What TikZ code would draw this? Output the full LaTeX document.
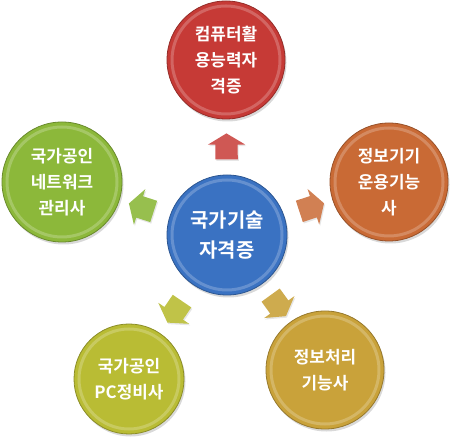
\documentclass[tikz,border=0pt]{standalone}
\usepackage{fontspec}
\setmainfont{Noto Sans CJK KR}[BoldFont={Noto Sans CJK KR Bold}]
\usetikzlibrary{calc,shapes.arrows,shadows}

\definecolor{discblue}{HTML}{3A72C2}
\definecolor{discred}{HTML}{C63A36}
\definecolor{discorange}{HTML}{C96A35}
\definecolor{discgreen}{HTML}{8CB83A}
\definecolor{discolive}{HTML}{B9BC34}
\definecolor{discgold}{HTML}{C9A23A}

\begin{document}
\begin{tikzpicture}[x=1bp, y=1bp,
  disc/.style={circle, fill=#1, draw=#1!75!black, line width=0.8bp,
    minimum size=118bp, inner sep=0pt, text=white, align=center,
    font=\bfseries\fontsize{17}{26}\selectfont,
    drop shadow={opacity=0.3, shadow xshift=1.5bp, shadow yshift=-2.5bp},
    path picture={\draw[white, opacity=0.22, line width=3bp]
      let \p1=(path picture bounding box.center),
          \p2=(path picture bounding box.east) in
      (\p1) circle ({\x2-\x1-5bp});}},
  blockarrow/.style={single arrow, fill=#1, inner xsep=0pt, inner ysep=11bp,
    minimum height=26bp, minimum width=37bp,
    single arrow head extend=7.5bp, single arrow tip angle=118,
    sloped, allow upside down,
    drop shadow={opacity=0.2, shadow xshift=1bp, shadow yshift=-1.5bp}}]

\useasboundingbox (0,0) rectangle (451,438);

% Centre disc
\node[disc=discblue, minimum size=120bp, font=\bfseries\fontsize{20}{31}\selectfont]
  (hub) at (227,203) {국가기술\\자격증};

% Outer discs
\node[disc=discred] (comp) at (226,378) {컴퓨터활\\용능력자\\격증};
\node[disc=discorange] (oper) at (389,256) {정보기기\\운용기능\\사};
\node[disc=discgold] (proc) at (325,68) {정보처리\\기능사};
\node[disc=discolive, minimum size=110bp] (pcrep) at (129,59) {국가공인\\PC정비사};
\node[disc=discgreen, minimum size=120bp] (netw) at (62,256) {국가공인\\네트워크\\관리사};

% Arrows
\path (hub) -- (comp) node[pos=0.45, blockarrow=discred!85!white] (acomp) {};
\path (hub) -- (oper) node[pos=0.5, blockarrow=discorange!85!white] (aoper) {};
\path (hub) -- (proc) node[pos=0.5, blockarrow=discgold!90!white] (aproc) {};
\path (hub) -- (pcrep) node[pos=0.5, blockarrow=discolive!90!white] (apcrep) {};
\path (hub) -- (netw) node[pos=0.5, blockarrow=discgreen!90!white] (anetw) {};

\end{tikzpicture}
\end{document}
